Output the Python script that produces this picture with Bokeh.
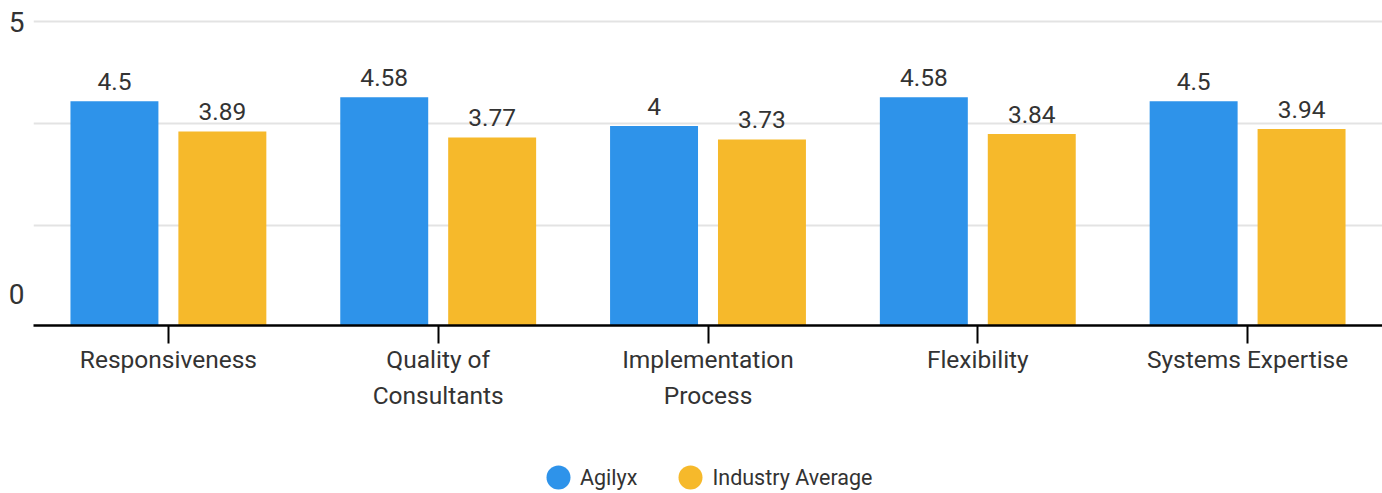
from bokeh.plotting import figure
from bokeh.layouts import column
from bokeh.models import ColumnDataSource, FactorRange, Range1d, FixedTicker, Legend, LegendItem
from bokeh.transform import dodge
from bokeh.core.properties import value
from bokeh.embed import file_html
from bokeh.resources import INLINE

categories = ["Responsiveness", "Quality of\nConsultants", "Implementation\nProcess", "Flexibility", "Systems Expertise"]
agilyx = [4.5, 4.58, 4.0, 4.58, 4.5]
industry = [3.89, 3.77, 3.73, 3.84, 3.94]
series = ["Agilyx", "Industry Average"]
colors = ["#2e93ea", "#f6b92b"]
y_tick_values = [0.64, 6.09]
y_tick_labels = ["0", "5"]
grid_values = [2, 4.06, 6.09]

FONT = "Roboto"
TXT = "#333333"

src = ColumnDataSource(dict(
    cat=categories,
    agilyx=agilyx,
    industry=industry,
    agilyx_lbl=[f"{v:g}" for v in agilyx],
    industry_lbl=[f"{v:g}" for v in industry],
))

p = figure(x_range=FactorRange(*categories), y_range=Range1d(0, 6.52),
           width=1382, height=425, output_backend="svg", toolbar_location=None,
           min_border_left=33, min_border_right=0, min_border_top=0, min_border_bottom=100)
p.outline_line_color = None
p.xgrid.grid_line_color = None
p.ygrid.ticker = FixedTicker(ticks=grid_values)
p.ygrid.grid_line_color = "#e3e3e3"
p.ygrid.grid_line_width = 2

p.vbar(x=dodge("cat", -0.2, range=p.x_range), top="agilyx", width=0.326, source=src,
       fill_color=colors[0], line_color=None)
p.vbar(x=dodge("cat", 0.2, range=p.x_range), top="industry", width=0.326, source=src,
       fill_color=colors[1], line_color=None)

p.text(x=dodge("cat", -0.2, range=p.x_range), y="agilyx", text="agilyx_lbl", source=src,
       text_align="center", text_baseline="alphabetic", y_offset=-20,
       text_font=value(FONT), text_font_size="24.5px", text_color=TXT)
p.text(x=dodge("cat", 0.2, range=p.x_range), y="industry", text="industry_lbl", source=src,
       text_align="center", text_baseline="alphabetic", y_offset=-20,
       text_font=value(FONT), text_font_size="24.5px", text_color=TXT)

xa = p.xaxis[0]
xa.axis_line_color = "black"
xa.axis_line_width = 2.5
xa.major_tick_line_color = "black"
xa.major_tick_line_width = 2
xa.major_tick_out = 18
xa.major_tick_in = 0
xa.major_label_standoff = 1
xa.major_label_text_font = FONT
xa.major_label_text_font_size = "24.5px"
xa.major_label_text_color = TXT
xa.major_label_text_line_height = 1.27

ya = p.yaxis[0]
ya.ticker = FixedTicker(ticks=y_tick_values)
ya.major_label_overrides = dict(zip(y_tick_values, y_tick_labels))
ya.axis_line_color = None
ya.major_tick_line_color = None
ya.minor_tick_line_color = None
ya.major_tick_out = 0
ya.major_tick_in = 0
ya.major_label_standoff = 9
ya.major_label_text_font = FONT
ya.major_label_text_font_size = "28px"
ya.major_label_text_color = TXT

# legend strip
lg = figure(x_range=Range1d(0, 1), y_range=Range1d(0, 1), width=1382, height=68,
            output_backend="svg", toolbar_location=None, x_axis_type=None, y_axis_type=None,
            min_border_left=0, min_border_right=0, min_border_top=0, min_border_bottom=0)
lg.outline_line_color = None
lg.xgrid.grid_line_color = None
lg.ygrid.grid_line_color = None
lsrc = ColumnDataSource(dict(x=[float("nan")], y=[float("nan")]))
s1 = lg.ellipse(x="x", y="y", width=24, height=24, width_units="screen", height_units="screen",
                source=lsrc, fill_color=colors[0], line_color=None)
s2 = lg.ellipse(x="x", y="y", width=24, height=24, width_units="screen", height_units="screen",
                source=lsrc, fill_color=colors[1], line_color=None)

legend = Legend(items=[LegendItem(label=series[0], renderers=[s1]),
                       LegendItem(label=series[1], renderers=[s2])],
                location=(510, 1), orientation="horizontal",
                glyph_width=30, glyph_height=30, label_standoff=7, spacing=38,
                padding=0, margin=0, border_line_color=None, background_fill_alpha=0,
                label_text_font=FONT, label_text_font_size="21.5px", label_text_color=TXT)
lg.add_layout(legend, "center")

layout = column(p, lg, spacing=0)
open("out.html", "w").write(file_html(layout, INLINE))
